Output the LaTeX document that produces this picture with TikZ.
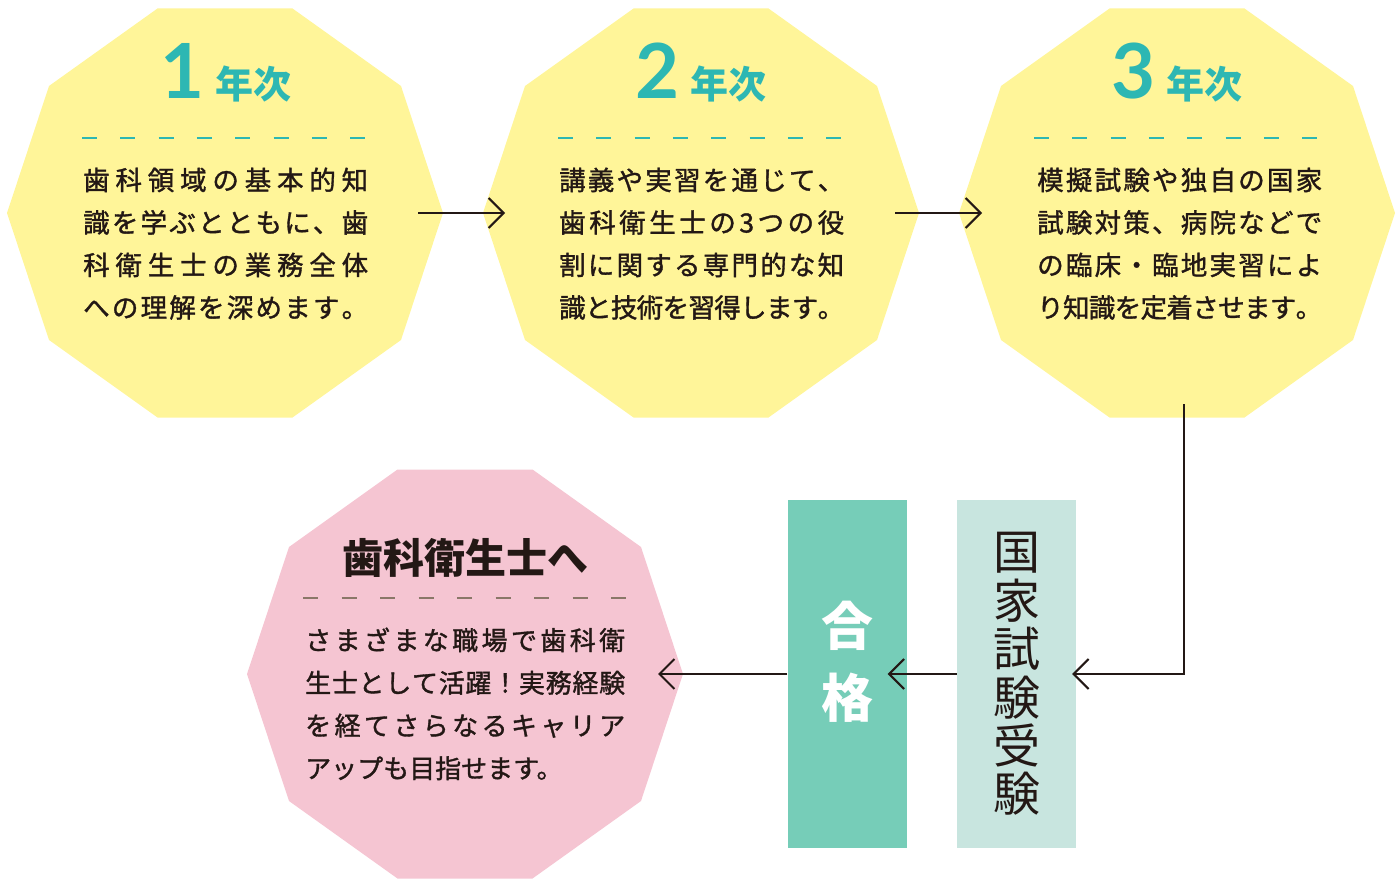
\documentclass[tikz,border=0pt]{standalone}
\usepackage{fontspec}
\newfontfamily\jp{Noto Sans CJK JP}
\newfontfamily\jpm{Noto Sans CJK JP}[FakeBold=1.3]
\newfontfamily\numf{Lato}
\usetikzlibrary{arrows.meta,calc}
\definecolor{ylw}{HTML}{FFF599}
\definecolor{pnk}{HTML}{F5C5D2}
\definecolor{tealc}{HTML}{2DB7B3}
\definecolor{grn}{HTML}{76CDB8}
\definecolor{lgrn}{HTML}{C8E5DF}
\definecolor{dark}{HTML}{231815}
\definecolor{pdash}{HTML}{8A7768}
\makeatletter
\newcommand\jl[2]{\hbox to #1{\def\js{}\@tfor\jc:=#2\do{\js\jc\def\js{\hskip 0pt plus 1fil minus 3pt}}}}
\makeatother
\newcommand\yl[1]{\jl{285pt}{#1}}
\newcommand\pl[1]{\jl{320pt}{#1}}
\newcommand\deca[4]{%
  \coordinate (#1) at (#2,#3);
  \fill[#4, shift={(#1)}] (-67.5,-204.5) -- (67.5,-204.5) -- (176,-127) -- (218,0) -- (176,127) -- (67.5,204.5) -- (-67.5,204.5) -- (-176,127) -- (-218,0) -- (-176,-127) -- cycle;}
\tikzset{
  arr/.style={draw=dark, line width=2.1pt, -{Straight Barb[length=15pt,width=30pt]}},
  tdash/.style={draw=tealc, line width=2pt, dash pattern=on 15pt off 23.3pt},
  pdashst/.style={draw=pdash, line width=2pt, dash pattern=on 15pt off 23.5pt},
  yhead/.style={anchor=base, text=tealc, inner sep=0},
  body/.style={anchor=base west, inner sep=0, text=dark, font=\jpm\fontsize{26.5}{42.5}\selectfont},
  pbody/.style={anchor=base west, inner sep=0, text=dark, font=\jpm\fontsize{26}{42.7}\selectfont},
  boxst/.style={rectangle, inner sep=0, minimum width=119pt, minimum height=348pt, draw=none},
}
\newcommand\yeartxt[1]{{\numf\bfseries\fontsize{76}{76}\selectfont #1}\hspace{11pt}{\jp\bfseries\fontsize{38}{38}\selectfont 年次}}
\begin{document}
\begin{tikzpicture}[x=1pt,y=-1pt]
\useasboundingbox (0,0) rectangle (1400,890);
% shapes
\deca{s1}{225}{213}{ylw}
\deca{s2}{701}{213}{ylw}
\deca{s3}{1177}{213}{ylw}
\deca{s4}{465}{674}{pnk}
% boxes
\node[boxst, fill=grn] (pass) at (847,674) {};
\node[boxst, fill=lgrn, text=dark, align=center, font=\jp\fontsize{47}{48.4}\selectfont] (exam) at (1016.5,674) {国\\家\\試\\験\\受\\験};
\node[text=white, align=center, inner sep=0, font=\jp\bfseries\fontsize{52}{72}\selectfont] (passlbl) at (847,662) {合\\格};
% headings
\node[yhead] (h1) at (226,99) {\yeartxt{1}};
\node[yhead] (h2) at (701,99) {\yeartxt{2}};
\node[yhead] (h3) at (1177,99) {\yeartxt{3}};
\node[anchor=base, inner sep=0, text=dark, font=\jp\bfseries\fontsize{41}{41}\selectfont] (h4) at (465,573) {歯科衛生士へ};
% dashes
\draw[tdash] ($(s1)+(-143,-75)$) -- ($(s1)+(142,-75)$);
\draw[tdash] ($(s2)+(-143,-75)$) -- ($(s2)+(142,-75)$);
\draw[tdash] ($(s3)+(-143,-75)$) -- ($(s3)+(142,-75)$);
\draw[pdashst] ($(s4)+(-162,-76)$) -- ($(s4)+(161,-76)$);
% body texts
\node[body] (t1) at (83,190) {\vtop{\baselineskip=42.5pt\yl{歯科領域の基本的知}\yl{識を学ぶとともに、歯}\yl{科衛生士の業務全体}\yl{への理解を深めます。}}};
\node[body] (t2) at (559,190) {\vtop{\baselineskip=42.5pt\yl{講義や実習を通じて、}\yl{歯科衛生士の3つの役}\yl{割に関する専門的な知}\yl{識と技術を習得します。}}};
\node[body] (t3) at (1037,190) {\vtop{\baselineskip=42.5pt\yl{模擬試験や独自の国家}\yl{試験対策、病院などで}\yl{の臨床・臨地実習によ}\yl{り知識を定着させます。}}};
\node[pbody] (t4) at (305,650) {\vtop{\baselineskip=42.7pt\pl{さまざまな職場で歯科衛}\pl{生士として活躍！実務経験}\pl{を経てさらなるキャリア}\hbox{アップも目指せます。}}};
% connectors
\draw[arr] ($(s1)+(193,0)$) -- ($(s2)+(-196,0)$);
\draw[arr] ($(s2)+(194,0)$) -- ($(s3)+(-195,0)$);
\draw[arr] ($(s3)+(7,191)$) |- ($(exam.east)+(-4,0)$);
\draw[arr] (exam.west) -- ($(pass.east)+(-19,0)$);
\draw[arr] (pass.west) -- ($(s4)+(193,0)$);
\end{tikzpicture}
\end{document}
